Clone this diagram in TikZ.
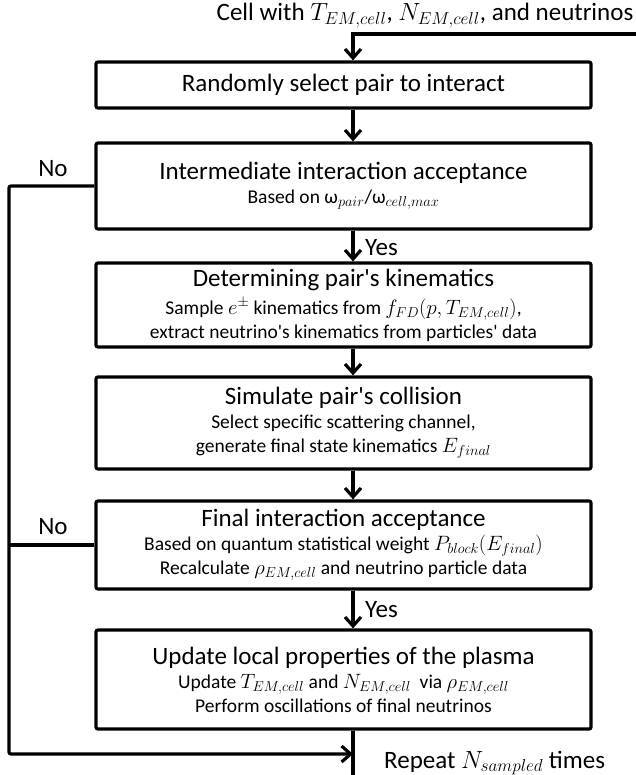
\documentclass[tikz,border=0pt]{standalone}
\usepackage{fontspec}
\setmainfont{Carlito}[Ligatures=TeXOff]
\usetikzlibrary{arrows.meta}
\newcommand{\stagehead}{\fontsize{25}{28}\selectfont}
\newcommand{\stagenote}{\fontsize{19.5}{24}\selectfont}
\tikzstyle{stage}=[draw, line width=3.2pt, rounded corners=2pt, minimum width=495pt, inner sep=0pt, align=center, font=\stagenote]
\tikzstyle{flow}=[line width=3.2pt, -{Straight Barb[length=9pt,width=16pt]}]
\tikzstyle{link}=[line width=3.2pt]
\tikzstyle{tag}=[font=\stagehead, inner sep=0pt]

\begin{document}
\begin{tikzpicture}[x=1pt, y=-1pt]
        \useasboundingbox (0,0) rectangle (636,775);
        \coordinate (spine) at (353,0);
        \coordinate (inflow) at (636,34);
        \coordinate (loopL) at (9,754);
        \coordinate (merge) at (353,754);
        \coordinate (exit) at (353,775);
        \node[tag] (cell) at (425,15.5) {Cell with $T_{EM,cell}$, $N_{EM,cell}$, and neutrinos};
        \node[stage, minimum height=46pt] (select) at (343.5,85) {\stagehead Randomly select pair to interact};
        \node[stage, minimum height=86pt] (inter) at (343.5,186) {{\stagehead Intermediate interaction acceptance}\\ Based on ω$_{pair}$/ω$_{cell,max}$};
        \node[stage, minimum height=84pt] (kin) at (343.5,305) {{\stagehead Determining pair's kinematics}\\[4pt] Sample $e^{\pm}$ kinematics from $f_{FD}(p,T_{EM,cell})$,\\ extract neutrino's kinematics from particles' data};
        \node[stage, minimum height=92pt] (coll) at (343.5,423) {{\stagehead Simulate pair's collision}\\ Select specific scattering channel,\\ generate final state kinematics $E_{final}$};
        \node[stage, minimum height=88pt] (final) at (343.5,545) {{\stagehead Final interaction acceptance}\\ Based on quantum statistical weight $P_{block}(E_{final})$\\ Recalculate $\rho_{EM,cell}$ and neutrino particle data};
        \node[stage, minimum height=99pt] (update) at (343.5,679.5) {{\stagehead Update local properties of the plasma}\\ Update $T_{EM,cell}$ and $N_{EM,cell}$\ \ via $\rho_{EM,cell}$\\ Perform oscillations of final neutrinos};
        \node[tag] (no1) at (53,169) {No};
        \node[tag] (no2) at (53,527) {No};
        \node[tag, anchor=west] (yes1) at (365,248) {Yes};
        \node[tag, anchor=west] (yes2) at (365,610) {Yes};
        \node[tag, anchor=west] (repeat) at (384,763) {Repeat $N_{sampled}$ times};
        \draw[flow] (inflow) -| (select.north -| spine);
        \draw[flow] (select.south -| spine) -- (inter.north -| spine);
        \draw[flow] (inter.south -| spine) -- (kin.north -| spine);
        \draw[flow] (kin.south -| spine) -- (coll.north -| spine);
        \draw[flow] (coll.south -| spine) -- (final.north -| spine);
        \draw[flow] (final.south -| spine) -- (update.north -| spine);
        \draw[link] (update.south -| spine) -- (exit);
        \draw[flow, rounded corners=2pt] (inter.west) -| (loopL) -- (merge);
        \draw[link] (final.west) -- (final.west -| loopL);
    \end{tikzpicture}
\end{document}
